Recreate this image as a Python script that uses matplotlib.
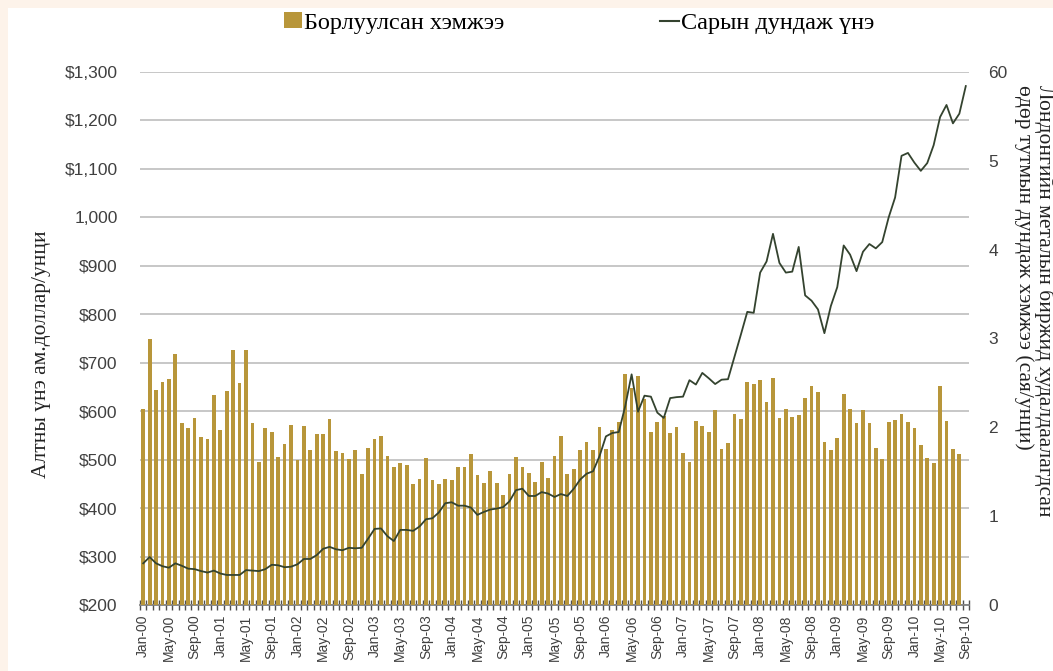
import numpy as np
import pandas as pd
import matplotlib
matplotlib.use('Agg')
import matplotlib.pyplot as plt
from matplotlib.patches import Rectangle
from matplotlib.lines import Line2D

# сар бүрийн ангилал: 2000.01 - 2010.09
months = pd.date_range('2000-01-01', periods=129, freq='MS').strftime('%b-%y').tolist()

# сарын дундаж үнэ, ам.доллар/унци
price = [286, 299, 286, 280, 277, 286, 281, 275, 274, 270, 267, 271,
         265, 262, 262, 262, 272, 271, 270, 274, 283, 282, 278, 279,
         284, 295, 295, 303, 316, 320, 315, 313, 318, 317, 318, 337,
         357, 358, 342, 332, 355, 355, 353, 362, 377, 379, 391, 410,
         412, 405, 405, 401, 386, 392, 397, 399, 402, 414, 437, 440,
         425, 425, 433, 430, 423, 429, 425, 440, 459, 471, 476, 507,
         548, 555, 557, 610, 676, 599, 632, 630, 597, 586, 627, 629,
         630, 664, 655, 679, 668, 656, 665, 666, 712, 758, 805, 803,
         886, 909, 966, 906, 886, 888, 939, 839, 828, 810, 761, 817,
         856, 942, 923, 889, 929, 945, 936, 949, 1000, 1041, 1127, 1133,
         1113, 1096, 1112, 1149, 1207, 1232, 1194, 1214, 1271]

# борлуулсан хэмжээ, сая унци (2010.08 хүртэл)
volume = [2.21, 3.00, 2.42, 2.51, 2.54, 2.82, 2.05, 1.99, 2.11, 1.89, 1.87, 2.36,
          1.97, 2.41, 2.87, 2.50, 2.87, 2.05, 1.61, 1.99, 1.95, 1.67, 1.81, 2.03,
          1.63, 2.01, 1.75, 1.93, 1.93, 2.09, 1.73, 1.71, 1.64, 1.75, 1.48, 1.77,
          1.87, 1.90, 1.68, 1.55, 1.60, 1.58, 1.36, 1.42, 1.66, 1.41, 1.36, 1.42,
          1.41, 1.55, 1.55, 1.70, 1.46, 1.37, 1.51, 1.37, 1.24, 1.48, 1.67, 1.55,
          1.49, 1.38, 1.61, 1.43, 1.68, 1.90, 1.47, 1.53, 1.75, 1.83, 1.75, 2.00,
          1.76, 1.97, 2.06, 2.60, 2.44, 2.58, 2.32, 1.95, 2.06, 2.13, 1.94, 2.00,
          1.71, 1.61, 2.07, 2.02, 1.95, 2.19, 1.76, 1.82, 2.15, 2.09, 2.51, 2.49,
          2.53, 2.29, 2.56, 2.11, 2.21, 2.12, 2.14, 2.33, 2.47, 2.40, 1.83, 1.75,
          1.88, 2.38, 2.21, 2.05, 2.19, 2.05, 1.77, 1.64, 2.06, 2.08, 2.15, 2.06,
          1.99, 1.80, 1.66, 1.60, 2.47, 2.07, 1.76, 1.70]

left_ticks = [200, 300, 400, 500, 600, 700, 800, 900, 1000, 1100, 1200, 1300]
left_labels = ['$200', '$300', '$400', '$500', '$600', '$700', '$800', '$900',
               '1,000', '$1,100', '$1,200', '$1,300']
right_ticks = [0, 1, 2, 3, 4, 5, 6]
right_labels = ['0', '1', '2', '3', '4', '5', '60']

bar_color = '#b8963a'
line_color = '#34432f'
text_color = '#404040'
serif = ['Liberation Serif', 'DejaVu Serif']
sans = ['Liberation Sans', 'DejaVu Sans']

fig = plt.figure(figsize=(10.53, 6.71), dpi=100)
fig.patch.set_facecolor('#fdf3ea')
fig.patches.append(Rectangle((8 / 1053, 0), 1, 1 - 8 / 671, transform=fig.transFigure,
                             facecolor='white', edgecolor='none', zorder=-10))

ax1 = fig.add_axes([140 / 1053, 66 / 671, 829 / 1053, 533 / 671])
ax1.set_facecolor('none')
ax2 = ax1.twinx()
ax3 = ax1.twinx()

x = np.arange(len(months))
xb = np.arange(len(volume))

# үнийн тэнхлэг ба сүлжээ
ax1.set_ylim(200, 1300)
ax1.set_yticks(left_ticks)
ax1.set_yticklabels(left_labels, family=sans, fontsize=12.5, color=text_color)
ax1.yaxis.grid(True, color='#c3c3c3', lw=1.3)
ax1.set_axisbelow(True)
ax1.tick_params(axis='y', length=0, pad=16)
ax1.set_xlim(-0.5, len(months) - 0.5)
ax1.set_xticks(x[::4])
ax1.set_xticklabels(months[::4], rotation=90, family=sans, fontsize=10, color=text_color)
ax1.set_xticks(np.arange(-0.5, len(months), 1), minor=True)
ax1.tick_params(axis='x', which='major', length=0, pad=7)
ax1.tick_params(axis='x', which='minor', length=7, direction='inout', color='#505050', width=1)
for s in ['left', 'right', 'top']:
    ax1.spines[s].set_visible(False)
ax1.spines['bottom'].set_color('#808080')
ax1.spines['bottom'].set_linewidth(1.3)
ax1.set_ylabel('Алтны үнэ ам.доллар/унци', family=serif, fontsize=15.5, color='#222222')
ax1.yaxis.set_label_coords(-89 / 829, 0.47)

# хэмжээний багана
ax2.bar(xb, volume, width=0.58, color=bar_color, zorder=2)
ax2.set_ylim(0, 6)
ax2.set_yticks(right_ticks)
ax2.set_yticklabels(right_labels, family=sans, fontsize=12.5, color=text_color)
ax2.tick_params(axis='y', length=0, pad=14)
ax2.set_xlim(ax1.get_xlim())
for s in ax2.spines.values():
    s.set_visible(False)

# үнийн шугам
ax3.plot(x, price, color=line_color, lw=1.3)
ax3.set_ylim(ax1.get_ylim())
ax3.set_xlim(ax1.get_xlim())
ax3.set_yticks([])
for s in ax3.spines.values():
    s.set_visible(False)

fig.text(1034 / 1053, 1 - 85 / 671,
         'Лондонгийн металын биржид худалдаалагдсан\nөдөр тутмын дундаж хэмжээ (сая/унци)',
         rotation=270, va='top', ha='center', multialignment='left',
         family=serif, fontsize=15.5, color='#222222', linespacing=1.0)

handles = [Rectangle((0, 0), 1, 1, facecolor=bar_color),
           Line2D([0], [0], color=line_color, lw=1.5)]
fig.legend(handles, ['Борлуулсан хэмжээ', 'Сарын дундаж үнэ'], loc='center',
           bbox_to_anchor=(579 / 1053, 1 - 23 / 671), ncol=2, frameon=False,
           prop={'family': serif, 'size': 17.5}, handlelength=0.75, handleheight=0.6,
           handletextpad=0.1, columnspacing=6.4)

fig.savefig('out.png', dpi=100, facecolor=fig.get_facecolor())
